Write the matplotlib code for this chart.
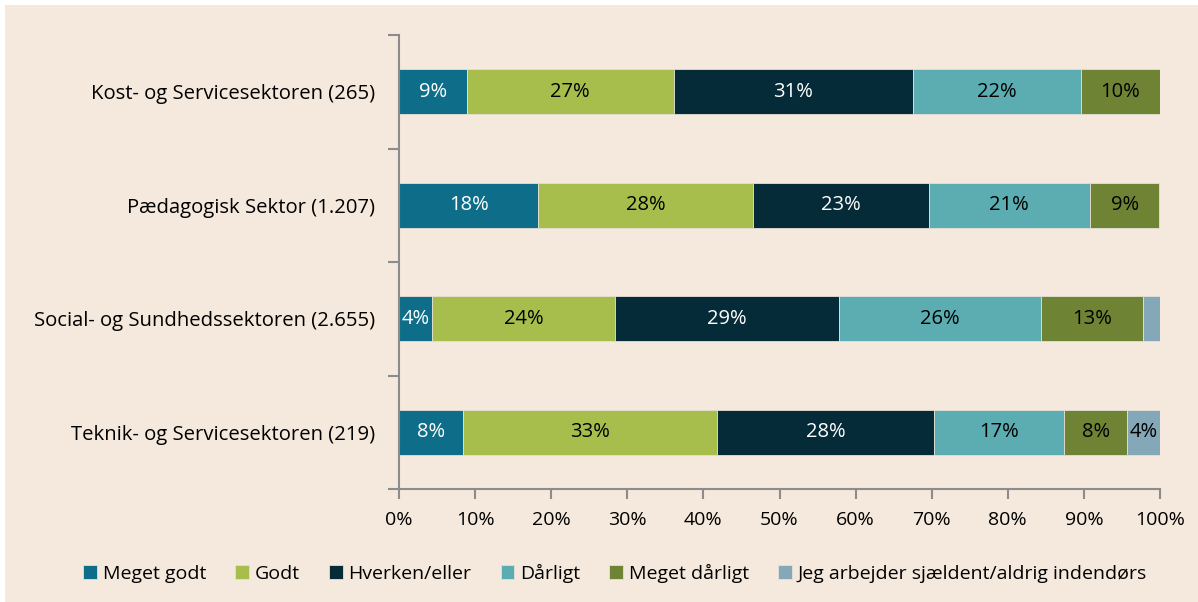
import matplotlib
matplotlib.use("Agg")
import matplotlib.pyplot as plt
from matplotlib.patches import Rectangle
import numpy as np

plt.rcParams['font.family'] = ['Open Sans', 'DejaVu Sans']

sectors = ["Kost- og Servicesektoren (265)",
           "Pædagogisk Sektor (1.207)",
           "Social- og Sundhedssektoren (2.655)",
           "Teknik- og Servicesektoren (219)"]

answers = ["Meget godt", "Godt", "Hverken/eller", "Dårligt", "Meget dårligt",
           "Jeg arbejder sjældent/aldrig indendørs"]

# shares in percent, one list per answer (order follows sectors)
meget_godt = [8.9, 18.3, 4.3, 8.4]
godt = [27.2, 28.2, 24.1, 33.4]
hverken = [31.4, 23.1, 29.45, 28.45]
daarligt = [22.1, 21.2, 26.5, 17.2]
meget_daarligt = [10.4, 9.1, 13.4, 8.2]
sjaeldent = [0.0, 0.1, 2.25, 4.35]

colors = ["#0e6e89", "#a7be4d", "#062b38", "#5badb1", "#6e8434", "#84a8b8"]
txt_colors = ["white", "black", "white", "black", "black", "black"]

series = [meget_godt, godt, hverken, daarligt, meget_daarligt, sjaeldent]

fig = plt.figure(figsize=(11.98, 6.02), dpi=100)
fig.patch.set_facecolor("white")
fig.patches.append(Rectangle((5 / 1198, 0), 1 - 5 / 1198, 1 - 5 / 602,
                             transform=fig.transFigure, facecolor="#f5e9dd",
                             edgecolor="none", zorder=-10))

ax = fig.add_axes([399 / 1198, 1 - 489 / 602, (1160 - 399) / 1198, (489 - 35) / 602])
ax.set_facecolor("none")

y = np.arange(len(sectors))
left = np.zeros(len(sectors))
for vals, name, c, tc in zip(series, answers, colors, txt_colors):
    vals = np.array(vals)
    ax.barh(y, vals, left=left, height=0.4, color=c, label=name,
            edgecolor="#e6e0d6", linewidth=0.6)
    for yi, v, l in zip(y, vals, left):
        if v >= 3.5:
            ax.text(l + v / 2, yi, "%d%%" % round(v), ha="center", va="center",
                    color=tc, fontsize=14.5)
    left += vals

ax.set_xlim(0, 100)
ax.set_ylim(3.5, -0.5)
ax.set_xticks(np.arange(0, 101, 10))
ax.set_xticklabels(["%d%%" % t for t in range(0, 101, 10)], fontsize=14)
ax.set_yticks([-0.5, 0.5, 1.5, 2.5, 3.5])
ax.set_yticklabels([])
ax.set_yticks(y, minor=True)
ax.set_yticklabels(sectors, minor=True, fontsize=14.6)
ax.tick_params(axis="y", which="minor", length=0, pad=17)
ax.tick_params(axis="y", which="major", length=8, color="#8c8c8c", width=1.5)
ax.tick_params(axis="x", length=7, color="#8c8c8c", width=1.5, pad=9)

for s in ["top", "right"]:
    ax.spines[s].set_visible(False)
for s in ["left", "bottom"]:
    ax.spines[s].set_color("#8c8c8c")
    ax.spines[s].set_linewidth(1.5)

fig.legend(loc="center", bbox_to_anchor=(0.5 + 16 / 1198, 1 - 573 / 602), ncol=6,
           frameon=False, fontsize=14, handlelength=0.7, handleheight=0.7,
           handletextpad=0.3, columnspacing=1.5)

fig.savefig("out.png", dpi=100, facecolor=fig.get_facecolor())
